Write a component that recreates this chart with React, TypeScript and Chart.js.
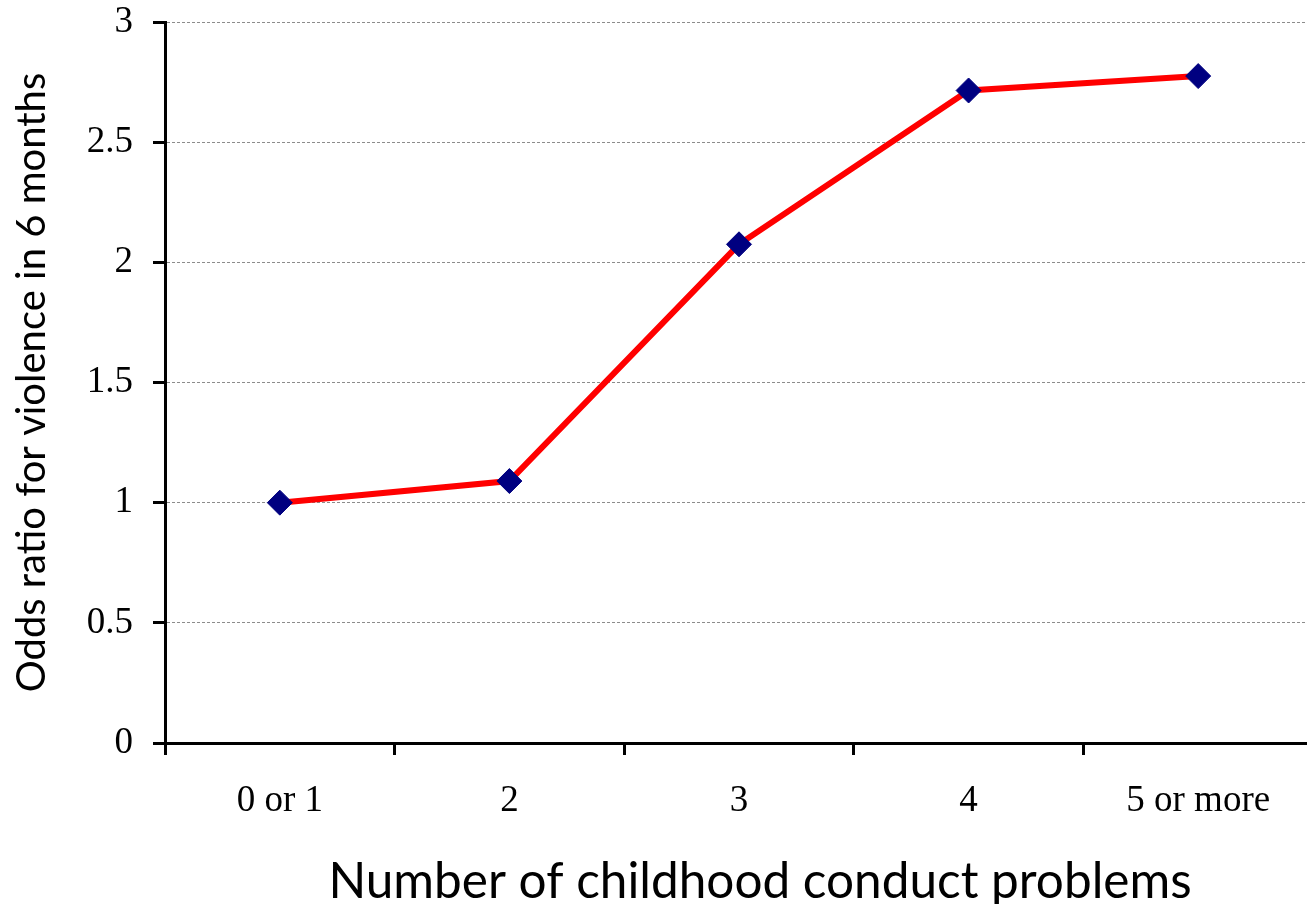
import React, { useEffect, useRef } from "react";
import { Chart, registerables } from "chart.js";

Chart.register(...registerables);

const categories = ["0 or 1", "2", "3", "4", "5 or more"];
const oddsRatios = [1.0, 1.09, 2.075, 2.715, 2.775];
const yTicks = [0, 0.5, 1, 1.5, 2, 2.5, 3];
const xTitle = "Number of childhood conduct problems";
const yTitle = "Odds ratio for violence in 6 months";

const SERIF = '"Liberation Serif", "Times New Roman", serif';
const SANS = 'Lato, "Open Sans", sans-serif';

export default function App() {
  const ref = useRef<HTMLCanvasElement>(null);

  useEffect(() => {
    if (!ref.current) return;
    const xTitlePlugin = {
      id: "xTitleDraw",
      afterDraw(chart: any) {
        const ctx = chart.ctx;
        ctx.save();
        ctx.font = `49.5px ${SANS}`;
        ctx.fillStyle = "#000";
        ctx.textAlign = "center";
        ctx.textBaseline = "alphabetic";
        ctx.fillText(xTitle, 760, 898);
        ctx.restore();
      },
    };
    const chart = new Chart(ref.current, {
      type: "line",
      data: {
        labels: categories,
        datasets: [
          {
            data: oddsRatios,
            borderColor: "#ff0000",
            borderWidth: 6,
            pointStyle: "rectRot",
            pointRadius: 12.5,
            pointHoverRadius: 12.5,
            pointBackgroundColor: "#000080",
            pointBorderColor: "#000080",
            pointBorderWidth: 1,
            tension: 0,
            fill: false,
          },
        ],
      },
      options: {
        responsive: false,
        animation: false,
        devicePixelRatio: 1,
        layout: { autoPadding: false, padding: { top: 22, right: 0, left: 0, bottom: 0 } },
        plugins: { legend: { display: false }, tooltip: { enabled: false } },
        scales: {
          x: {
            offset: true,
            grid: {
              offset: true,
              drawOnChartArea: false,
              drawTicks: true,
              tickLength: 12,
              tickColor: "#000",
              tickWidth: 3,
            },
            border: { display: true, color: "#000", width: 3 },
            ticks: {
              color: "#000",
              font: { family: SERIF, size: 37 },
              padding: 24,
              maxRotation: 0,
              autoSkip: false,
            },
            afterFit: (s: any) => {
              s.height = 161;
              s.paddingLeft = 0;
              s.paddingRight = 0;
            },
          },
          y: {
            min: 0,
            max: 3,
            afterBuildTicks: (s: any) => {
              s.ticks = yTicks.map((v) => ({ value: v }));
            },
            grid: {
              color: (c: any) => (c.tick && c.tick.value === 0 ? "rgba(0,0,0,0)" : "#8c8c8c"),
              lineWidth: 1,
              drawTicks: true,
              tickLength: 12,
              tickColor: "#000",
              tickWidth: 3,
            },
            border: { display: true, color: "#000", width: 3, dash: [3, 2] },
            ticks: {
              color: "#000",
              font: { family: SERIF, size: 37 },
              padding: 20,
              callback: (v: any) => String(v),
            },
            title: {
              display: true,
              text: yTitle,
              color: "#000",
              font: { family: SANS, size: 40 },
              padding: { top: 8, bottom: 0 },
            },
            afterFit: (s: any) => {
              s.width = 165;
              s.paddingTop = 0;
              s.paddingBottom = 0;
            },
          },
        },
      },
      plugins: [xTitlePlugin],
    });
    return () => chart.destroy();
  }, []);

  return (
    <div
      style={{
        position: "fixed",
        left: 0,
        top: 0,
        width: 1307,
        height: 904,
        overflow: "hidden",
        background: "#fff",
      }}
    >
      <canvas ref={ref} width={1313} height={904} style={{ display: "block" }} />
    </div>
  );
}
